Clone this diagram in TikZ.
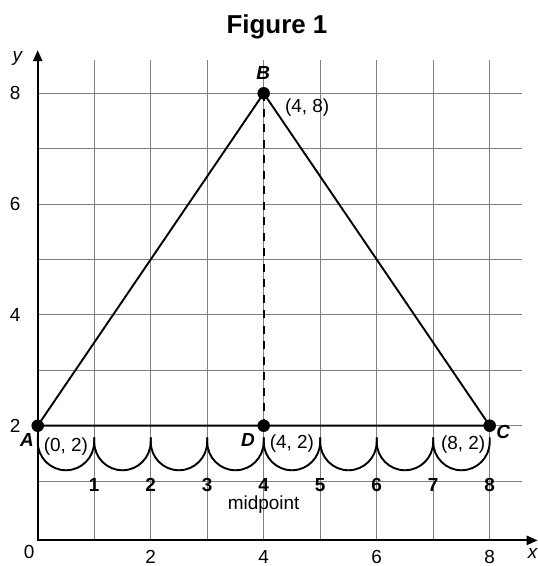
\documentclass[tikz,border=0pt]{standalone}
\usepackage{fontspec}
\setmainfont{Liberation Sans}
\usetikzlibrary{arrows.meta}
\begin{document}
\begin{tikzpicture}[x=56.5bp,y=55.4bp,
  gridline/.style={draw=black!50,line width=1bp},
  axisline/.style={draw=black,line width=2.2bp,-{Triangle[length=11bp,width=9bp]}},
  side/.style={draw=black,line width=1.9bp},
  dotpt/.style={circle,fill=black,inner sep=0pt,minimum size=12.5bp},
  lbl/.style={font=\fontsize{19}{19}\selectfont\bfseries\itshape},
  coord/.style={font=\fontsize{19}{19}\selectfont},
  num/.style={font=\fontsize{19}{19}\selectfont\bfseries},
  tick/.style={font=\fontsize{19}{19}\selectfont},
  arcline/.style={draw=black,line width=1.9bp}]
\useasboundingbox (-37.7bp,-29.5bp) rectangle (500.3bp,536.5bp);
% title
\node[font=\fontsize{26}{26}\selectfont\bfseries] (title) at (4.235,9.197) {Figure 1};
% grid
\foreach \i in {1,...,8} {
  \draw[gridline] (\i,-0.07) -- (\i,8.6);
  \draw[gridline] (0,\i) -- (8.57,\i);
}
% axes
\coordinate (o) at (0,-0.07);
\coordinate (xend) at (8.85,-0.07);
\coordinate (yend) at (0,8.78);
\draw[axisline] ([xshift=-1.1bp]o) -- (xend);
\draw[axisline] (o) -- (yend);
% axis labels
\node[tick] (l0) at (-0.15,-0.28) {0};
\foreach \v in {2,4,6,8} {
  \node[tick] (xl\v) at (\v,-0.37) {\v};
  \node[tick] (yl\v) at (-0.40,\v) {\v};
}
\node[tick,font=\fontsize{19}{19}\selectfont\itshape] (xlab) at (8.76,-0.30) {x};
\node[tick,font=\fontsize{19}{19}\selectfont\itshape] (ylab) at (-0.36,8.62) {y};
% arcs
\foreach \k in {0,...,7} {
  \draw[arcline] (\k,1.79) -- (\k,1.71) arc[start angle=180,end angle=360,x radius=28.25bp,y radius=28.5bp] -- (\k+1,1.79);
}
% points
\node[dotpt] (A) at (0,2) {};
\node[dotpt] (B) at (4,8) {};
\node[dotpt] (C) at (8,2) {};
\node[dotpt] (D) at (4,2) {};
\draw[side] (A.center) -- (B.center) -- (C.center) -- (A.center);
\draw[side,line width=2.2bp,dash pattern=on 8bp off 7.5bp] (B.center) -- (D.center);
% labels
\node[lbl] (Al) at (-0.19,1.74) {A};
\node[lbl] (Bl) at (3.99,8.37) {B};
\node[lbl] (Cl) at (8.24,1.89) {C};
\node[lbl] (Dl) at (3.72,1.74) {D};
\node[coord] (Ac) at (0.50,1.63) {(0, 2)};
\node[coord] (Bc) at (4.77,7.74) {(4, 8)};
\node[coord] (Cc) at (7.53,1.65) {(8, 2)};
\node[coord] (Dc) at (4.50,1.68) {(4, 2)};
\node[coord] (mid) at (4.0,0.57) {midpoint};
\foreach \k in {1,...,8} {
  \node[num] (n\k) at (\k,0.93) {\k};
}
\end{tikzpicture}
\end{document}
